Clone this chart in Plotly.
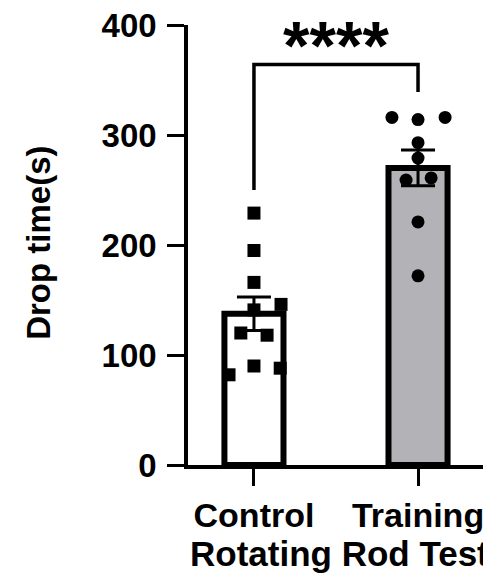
import numpy as np
import plotly.graph_objects as go

categories = ["Control", "Training"]
control_values = [229, 195, 166, 146, 141, 120, 118, 90, 82, 88]
training_values = [316, 314, 316, 293, 279, 259, 261, 221, 172]
control_jitter = [0, 0, 0, 0.165, 0, -0.08, 0.08, 0, -0.152, 0.16]
training_jitter = [-0.159, 0, 0.165, 0, 0, -0.073, 0.08, 0, 0]
y_ticks = [0, 100, 200, 300, 400]
significance = "****"

groups = [control_values, training_values]
means = [float(np.mean(g)) for g in groups]
sems = [float(np.std(g, ddof=1) / np.sqrt(len(g))) for g in groups]

FONT = "Liberation Sans, Arial, sans-serif"

fig = go.Figure()
fig.add_trace(go.Bar(
    x=[0, 1], y=means, width=0.36,
    marker=dict(color=["#ffffff", "#b3b3b7"], line=dict(color="black", width=6)),
    error_y=dict(type="data", array=sems, visible=True, color="black", thickness=3, width=17),
    showlegend=False, hoverinfo="skip",
))
fig.add_trace(go.Scatter(
    x=[0 + j for j in control_jitter], y=control_values, mode="markers",
    marker=dict(symbol="square", size=13, color="black"), showlegend=False,
))
fig.add_trace(go.Scatter(
    x=[1 + j for j in training_jitter], y=training_values, mode="markers",
    marker=dict(symbol="circle", size=13, color="black"), showlegend=False,
))

# significance bracket
fig.add_shape(type="path", xref="x", yref="y",
              path="M 0 250 L 0 364 L 1 364 L 1 339",
              line=dict(color="black", width=3.5))
fig.add_annotation(x=0.5, y=393, xref="x", yref="y", text=significance, showarrow=False,
                   font=dict(family=FONT, size=68, color="black", weight="bold"),
                   xanchor="center", yanchor="middle", yshift=-12)

fig.add_annotation(x=-0.505, y=0.505, xref="paper", yref="paper", text="Drop time(s)", textangle=-90,
                   showarrow=False, xanchor="center", yanchor="middle",
                   font=dict(family=FONT, size=33, color="black", weight="bold"))
fig.add_annotation(x=0.515, y=-0.2, xref="paper", yref="paper", text="Rotating Rod Test",
                   showarrow=False, xanchor="center", yanchor="middle",
                   font=dict(family=FONT, size=35, color="black", weight="bold"))

# page body has an 8px default margin: compensate so the plot lands where the reference has it
fig.update_layout(
    width=483, height=570,
    margin=dict(l=180, r=8, t=17, b=113),
    paper_bgcolor="white", plot_bgcolor="white",
    font=dict(family=FONT, color="black"),
)
fig.update_xaxes(range=[-0.402, 1.396], tickvals=[0, 1], ticktext=categories,
                 showline=True, linecolor="black", linewidth=3.5, ticks="outside", ticklen=17,
                 tickwidth=3, tickcolor="black", showgrid=False, zeroline=False, automargin=False,
                 ticklabeloverflow="allow",
                 tickfont=dict(family=FONT, size=34, color="black", weight="bold"))
fig.update_yaxes(range=[0, 400], tickvals=y_ticks, showline=True, linecolor="black", linewidth=3.5,
                 ticks="outside", ticklen=17, tickwidth=3, tickcolor="black", showgrid=False,
                 zeroline=False, ticklabelstandoff=4, automargin=False,
                 ticklabeloverflow="allow",
                 tickfont=dict(family=FONT, size=33, color="black", weight="bold"))

fig.write_html("out.html")
